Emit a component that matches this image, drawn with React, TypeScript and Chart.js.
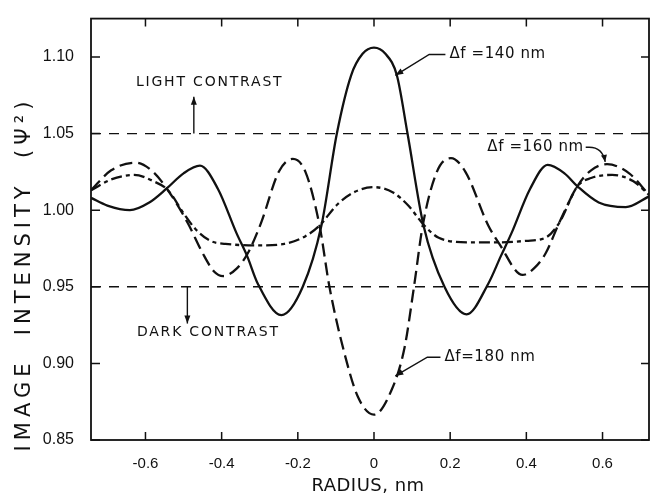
import React, { useEffect, useRef } from "react";
import { Chart, registerables } from "chart.js";

Chart.register(...registerables);

// ---- data ----
const xTicks = [-0.6, -0.4, -0.2, 0, 0.2, 0.4, 0.6];
const xTickLabels = ["-0.6", "-0.4", "-0.2", "0", "0.2", "0.4", "0.6"];
const yTicks = [0.85, 0.9, 0.95, 1.0, 1.05, 1.1];
const yTickLabels = ["0.85", "0.90", "0.95", "1.00", "1.05", "1.10"];

const radius140 = [-0.743, -0.7, -0.641, -0.59, -0.545, -0.5, -0.457, -0.41, -0.361, -0.333, -0.305, -0.243, -0.187, -0.138, -0.0975, -0.06, -0.03, 0, 0.03, 0.06, 0.088, 0.13, 0.185, 0.243, 0.3, 0.333, 0.361, 0.41, 0.456, 0.5, 0.534, 0.59, 0.661, 0.722];
const intensity140 = [1.008, 1.003, 1.0, 1.005, 1.014, 1.024, 1.029, 1.014, 0.985, 0.97, 0.952, 0.9315, 0.95, 0.99, 1.05, 1.088, 1.102, 1.106, 1.102, 1.088, 1.05, 0.99, 0.95, 0.932, 0.952, 0.97, 0.985, 1.014, 1.0295, 1.024, 1.0156, 1.005, 1.002, 1.009];

const radius160 = [-0.743, -0.69, -0.63, -0.58, -0.541, -0.5, -0.47, -0.43, -0.39, -0.3, -0.235, -0.18, -0.143, -0.095, -0.05, 0, 0.05, 0.09, 0.132, 0.17, 0.25, 0.33, 0.4, 0.45, 0.486, 0.534, 0.57, 0.625, 0.68, 0.722];
const intensity160 = [1.013, 1.02, 1.023, 1.019, 1.013, 0.998, 0.988, 0.98, 0.978, 0.977, 0.978, 0.983, 0.99, 1.004, 1.012, 1.015, 1.0115, 1.003, 0.99, 0.982, 0.979, 0.979, 0.98, 0.982, 0.9916, 1.0156, 1.021, 1.023, 1.019, 1.01];

const radius180 = [-0.743, -0.69, -0.626, -0.58, -0.541, -0.489, -0.45, -0.42, -0.396, -0.36, -0.331, -0.296, -0.25, -0.213, -0.18, -0.143, -0.117, -0.077, -0.042, 0, 0.045, 0.08, 0.105, 0.128, 0.165, 0.202, 0.24, 0.3, 0.329, 0.39, 0.42, 0.451, 0.486, 0.534, 0.57, 0.612, 0.67, 0.722];
const intensity180 = [1.013, 1.026, 1.031, 1.025, 1.013, 0.9916, 0.972, 0.96, 0.957, 0.962, 0.972, 0.992, 1.025, 1.0334, 1.025, 0.99, 0.95, 0.906, 0.878, 0.8665, 0.882, 0.91, 0.95, 0.99, 1.025, 1.034, 1.025, 0.99, 0.978, 0.9577, 0.962, 0.972, 0.9916, 1.0156, 1.026, 1.03, 1.024, 1.01];

const contrastLevels = [1.05, 0.95];
const seriesLabels = ["\u0394f =140 nm", "\u0394f =160 nm", "\u0394f=180 nm"];
const contrastLabels = ["LIGHT CONTRAST", "DARK CONTRAST"];
const xTitle = "RADIUS, nm";
const yTitle = "IMAGE  INTENSITY  (\u03A8\u00B2)";

const X_MIN = -0.743;
const X_MAX = 0.722;
const Y_MIN = 0.85;
const Y_MAX = 1.125;

// annotation anchors in data units
const contrastTextPos = [
  { x: -0.625, y: 1.0836 },
  { x: -0.6225, y: 0.92 },
];
const contrastArrows = [
  { x: -0.473, from: 1.05, to: 1.074 },
  { x: -0.49, from: 0.95, to: 0.926 },
];
const seriesTextPos = [
  { x: 0.198, y: 1.1016 },
  { x: 0.2975, y: 1.041 },
  { x: 0.185, y: 0.904 },
];

const FONT = "'DejaVu Sans', sans-serif";

function zip(xs: number[], ys: number[]) {
  return xs.map((x, i) => ({ x, y: ys[i] }));
}

function arrowHead(ctx: CanvasRenderingContext2D, fx: number, fy: number, tx: number, ty: number, len = 8, half = 3) {
  const a = Math.atan2(ty - fy, tx - fx);
  ctx.beginPath();
  ctx.moveTo(tx, ty);
  ctx.lineTo(tx - len * Math.cos(a) + half * Math.sin(a), ty - len * Math.sin(a) - half * Math.cos(a));
  ctx.lineTo(tx - len * Math.cos(a) - half * Math.sin(a), ty - len * Math.sin(a) + half * Math.cos(a));
  ctx.closePath();
  ctx.fill();
}

const decorPlugin = {
  id: "decor",
  afterDatasetsDraw(chart: any) {
    const ctx: CanvasRenderingContext2D = chart.ctx;
    const xs = chart.scales.x;
    const ys = chart.scales.y;
    const { left, right, top, bottom } = chart.chartArea;
    const px = (v: number) => xs.getPixelForValue(v);
    const py = (v: number) => ys.getPixelForValue(v);
    ctx.save();
    ctx.strokeStyle = "#111";
    ctx.fillStyle = "#111";
    // frame
    ctx.lineWidth = 1.8;
    ctx.setLineDash([]);
    ctx.strokeRect(left, top, right - left, bottom - top);
    // inward ticks
    ctx.lineWidth = 1.5;
    xTicks.forEach((t) => {
      const x = px(t);
      ctx.beginPath();
      ctx.moveTo(x, bottom);
      ctx.lineTo(x, bottom - 8);
      ctx.moveTo(x, top);
      ctx.lineTo(x, top + 8);
      ctx.stroke();
    });
    yTicks.forEach((t) => {
      const y = py(t);
      ctx.beginPath();
      ctx.moveTo(left, y);
      ctx.lineTo(left + 9, y);
      ctx.moveTo(right, y);
      ctx.lineTo(right - 8, y);
      ctx.stroke();
    });

    // contrast labels and arrows
    ctx.font = `14px ${FONT}`;
    (ctx as any).letterSpacing = "1.8px";
    ctx.textBaseline = "middle";
    ctx.textAlign = "left";
    contrastLabels.forEach((s, i) => {
      ctx.fillText(s, px(contrastTextPos[i].x), py(contrastTextPos[i].y));
    });
    ctx.lineWidth = 1.4;
    contrastArrows.forEach((a) => {
      const x = px(a.x);
      const y0 = py(a.from);
      const y1 = py(a.to);
      ctx.beginPath();
      ctx.moveTo(x, y0);
      ctx.lineTo(x, y1);
      ctx.stroke();
      arrowHead(ctx, x, y0, x, y1, 8, 3);
    });

    // series labels with leaders
    ctx.font = `15px ${FONT}`;
    (ctx as any).letterSpacing = "0.6px";
    seriesLabels.forEach((s, i) => {
      ctx.fillText(s, px(seriesTextPos[i].x), py(seriesTextPos[i].y));
    });
    ctx.lineWidth = 1.4;
    // 140 leader
    {
      const y = py(seriesTextPos[0].y);
      const x0 = px(seriesTextPos[0].x) - 4;
      const x1 = px(0.145);
      const tx = px(0.056), ty = py(1.088);
      ctx.beginPath();
      ctx.moveTo(x0, y);
      ctx.lineTo(x1, y);
      ctx.lineTo(tx, ty);
      ctx.stroke();
      arrowHead(ctx, x1, y, tx, ty);
    }
    // 180 leader
    {
      const y = py(seriesTextPos[2].y);
      const x0 = px(seriesTextPos[2].x) - 4;
      const x1 = px(0.14);
      const tx = px(0.056), ty = py(0.8918);
      ctx.beginPath();
      ctx.moveTo(x0, y);
      ctx.lineTo(x1, y);
      ctx.lineTo(tx, ty);
      ctx.stroke();
      arrowHead(ctx, x1, y, tx, ty);
    }
    // 160 leader
    {
      const w = ctx.measureText(seriesLabels[1]).width;
      const y = py(seriesTextPos[1].y);
      const x0 = px(seriesTextPos[1].x) + w + 2;
      const x1 = px(0.565);
      const cx = px(0.6), cy = y;
      const tx = px(0.607), ty = py(1.0315);
      ctx.beginPath();
      ctx.moveTo(x0, y);
      ctx.lineTo(x1, y);
      ctx.quadraticCurveTo(cx, cy, tx, ty);
      ctx.stroke();
      arrowHead(ctx, cx, cy, tx, ty, 7, 3);
    }

    // axis titles
    ctx.font = `18px ${FONT}`;
    (ctx as any).letterSpacing = "0.5px";
    ctx.textAlign = "center";
    ctx.textBaseline = "middle";
    ctx.fillText(xTitle, (left + right) / 2 - 2, 486);

    ctx.save();
    ctx.translate(25, 274);
    ctx.rotate(-Math.PI / 2);
    ctx.font = `21px ${FONT}`;
    (ctx as any).letterSpacing = "5px";
    ctx.fillText(yTitle, 0, 0);
    ctx.restore();

    ctx.restore();
  },
};

export default function App() {
  const ref = useRef<HTMLCanvasElement | null>(null);
  useEffect(() => {
    if (!ref.current) return;
    const line = (data: any[], dash: number[], width: number) => ({
      data,
      showLine: true,
      borderColor: "#111",
      borderWidth: width,
      borderDash: dash,
      pointRadius: 0,
      cubicInterpolationMode: "monotone" as const,
      fill: false,
    });
    const chart = new Chart(ref.current, {
      type: "scatter",
      data: {
        datasets: [
          { label: "ref1", ...line(zip([X_MIN, X_MAX], [contrastLevels[0], contrastLevels[0]]), [10, 8], 1.3), cubicInterpolationMode: "default" as any },
          { label: "ref2", ...line(zip([X_MIN, X_MAX], [contrastLevels[1], contrastLevels[1]]), [10, 8], 1.3), cubicInterpolationMode: "default" as any },
          { label: seriesLabels[0], ...line(zip(radius140, intensity140), [], 2.3) },
          { label: seriesLabels[1], ...line(zip(radius160, intensity160), [11, 4, 4, 4], 2.3) },
          { label: seriesLabels[2], ...line(zip(radius180, intensity180), [13, 6], 2.3) },
        ],
      },
      options: {
        animation: false,
        responsive: false,
        layout: { padding: { left: 0, right: 1, top: 13, bottom: 0 } },
        plugins: { legend: { display: false }, tooltip: { enabled: false } },
        scales: {
          x: {
            type: "linear",
            min: X_MIN,
            max: X_MAX,
            grid: { display: false },
            border: { display: false },
            afterBuildTicks: (s: any) => {
              s.ticks = xTicks.map((v) => ({ value: v }));
            },
            afterFit: (s: any) => {
              s.height = 59;
            },
            ticks: {
              padding: 7,
              color: "#111",
              font: { family: "'Liberation Sans', sans-serif", size: 15 },
              callback: (v: any) => {
                const i = xTicks.findIndex((t) => Math.abs(t - v) < 1e-9);
                return i >= 0 ? xTickLabels[i] : "";
              },
              maxRotation: 0,
            },
          },
          y: {
            type: "linear",
            min: Y_MIN,
            max: Y_MAX,
            grid: { display: false },
            border: { display: false },
            afterBuildTicks: (s: any) => {
              s.ticks = yTicks.map((v) => ({ value: v }));
            },
            afterFit: (s: any) => {
              s.width = 91;
            },
            ticks: {
              padding: 9,
              color: "#111",
              font: { family: "'Liberation Sans', sans-serif", size: 16 },
              callback: (v: any) => {
                const i = yTicks.findIndex((t) => Math.abs(t - v) < 1e-9);
                return i >= 0 ? yTickLabels[i] : "";
              },
            },
          },
        },
      },
      plugins: [decorPlugin],
    });
    return () => chart.destroy();
  }, []);
  return (
    <div style={{ position: "absolute", left: 0, top: 0, width: 650, height: 499, background: "#fff" }}>
      <canvas ref={ref} width={650} height={499} style={{ display: "block" }} />
    </div>
  );
}
